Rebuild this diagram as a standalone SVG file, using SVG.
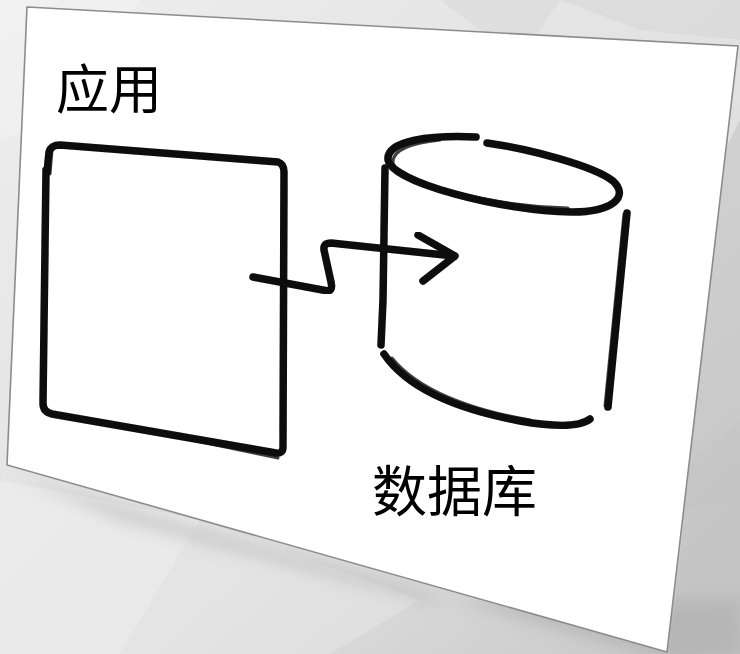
<svg xmlns="http://www.w3.org/2000/svg" width="740" height="654" viewBox="0 0 740 654">
  <defs>
    <linearGradient id="bg" x1="0" y1="0" x2="1" y2="1">
      <stop offset="0" stop-color="#eeeeee"/>
      <stop offset="0.6" stop-color="#e0e0e0"/>
      <stop offset="1" stop-color="#c6c6c6"/>
    </linearGradient>
    <filter id="soft" x="-5%" y="-5%" width="110%" height="110%">
      <feGaussianBlur stdDeviation="0.7"/>
    </filter>
    <filter id="blur8" x="-10%" y="-10%" width="120%" height="120%">
      <feGaussianBlur stdDeviation="8"/>
    </filter>
  </defs>
  <style>
    .ink { fill: none; stroke: #0a0a0a; stroke-width: 7.5; stroke-linecap: round; stroke-linejoin: round; }
    .ink2 { fill: none; stroke: #111; stroke-width: 3; stroke-linecap: round; stroke-linejoin: round; opacity: 0.8; }
    .label { font-family: "Noto Sans CJK SC", "Noto Sans", sans-serif; fill: #000; }
    .facet { stroke: none; }
  </style>

  <!-- background -->
  <rect x="0" y="0" width="740" height="654" fill="url(#bg)"/>
  <g opacity="0.5">
    <polygon class="facet" points="0,0 140,0 60,120 0,140" fill="#f4f4f4"/>
    <polygon class="facet" points="440,0 560,0 520,60" fill="#d8d8d8"/>
    <polygon class="facet" points="560,0 740,0 740,40 640,30" fill="#d6d6d6"/>
    <polygon class="facet" points="0,480 200,520 120,654 0,654" fill="#f2f2f2"/>
    <polygon class="facet" points="200,520 420,600 330,654 120,654" fill="#e8e8e8"/>
    <polygon class="facet" points="700,200 740,120 740,420 690,460" fill="#c2c2c2"/>
    <polygon class="facet" points="690,460 740,420 740,654 670,654" fill="#bdbdbd"/>
  </g>

  <!-- card shadow -->
  <polygon points="12,475 670,662 740,654 740,600 420,600 120,520" fill="#a8a8a8" opacity="0.5" filter="url(#blur8)"/>

  <!-- card -->
  <polygon points="27,7 738,46 667,652 7,465" fill="#ffffff" stroke="#8c8c8c" stroke-width="1.6"/>

  <!-- application node -->
  <g id="app" filter="url(#soft)">
    <path class="ink" d="M47,172 L49,152 Q51,145 60,145 L278,162 Q284,164 284,172 L283,447 Q283,454 276,453 L52,414 Q43,412 43,403 L46,170"/>
    <path class="ink2" d="M50,174 L52,150"/>
    <path class="ink2" d="M120,425 L278,458"/>
    <text class="label" x="56" y="109" font-size="53">应用</text>
  </g>

  <!-- database node -->
  <g id="db" filter="url(#soft)">
    <path class="ink" d="M476,137 C432,135 386,140 388,160 C392,182 500,211 572,212 C612,212 630,197 613,181 C594,166 530,149 487,143"/>
    <path class="ink2" d="M440,140 C404,144 392,152 393,163 C398,182 490,206 568,208"/>
    <path class="ink" d="M385,168 L383,300 L381,345"/>
    <path class="ink" d="M627,213 L608,407"/>
    <path class="ink2" d="M624,214 L605,406"/>
    <path class="ink" d="M384,354 C405,385 450,408 520,421 C555,427 580,427 590,419"/>
    <path class="ink2" d="M392,358 C418,390 470,410 530,420"/>
    <text class="label" x="372" y="511" font-size="55">数据库</text>
  </g>

  <!-- connectors -->
  <g id="connectors" filter="url(#soft)">
    <path class="ink" d="M253,277 L328,291 Q333,290 331,282 L324,250 Q323,243 331,243 L454,256"/>
    <path class="ink" d="M418,235 L455,256 L423,281"/>
  </g>
</svg>
